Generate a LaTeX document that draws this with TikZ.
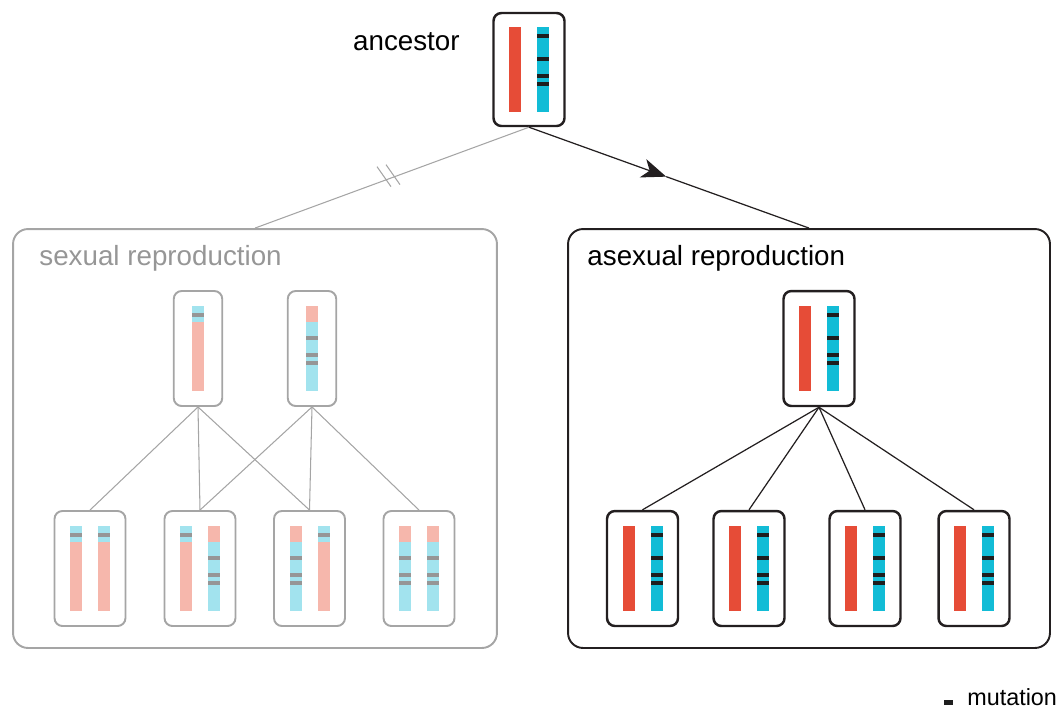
\documentclass[tikz,border=0pt]{standalone}
\usepackage{fontspec}
\setmainfont{Liberation Sans}
\usetikzlibrary{calc,arrows.meta}

\definecolor{redchr}{RGB}{230,76,55}
\definecolor{cyanchr}{RGB}{18,188,214}
\definecolor{pinkchr}{RGB}{246,183,172}
\definecolor{lcyanchr}{RGB}{162,227,238}
\definecolor{mutblack}{RGB}{30,30,30}
\definecolor{mutgray}{RGB}{150,150,150}
\definecolor{boxgray}{RGB}{165,165,165}
\definecolor{boxblack}{RGB}{35,31,32}

\newcommand{\solidbar}[2]{%
  \begin{scope}[shift={(#1)}]
    \fill[#2] (-6,-42.5) rectangle (6,42.5);
  \end{scope}}
\newcommand{\mutbar}[1]{%
  \begin{scope}[shift={(#1)}]
    \fill[cyanchr] (-6,-42.5) rectangle (6,42.5);
    \foreach \m in {9,32,49,57} {\fill[mutblack] (-6,\m-44.5) rectangle (6,\m-40.5);}
  \end{scope}}
\newcommand{\recA}[1]{%
  \begin{scope}[shift={(#1)}]
    \fill[pinkchr] (-6,-42.5) rectangle (6,42.5);
    \fill[lcyanchr] (-6,-42.5) rectangle (6,-26.5);
    \fill[mutgray] (-6,-35.5) rectangle (6,-31.5);
  \end{scope}}
\newcommand{\recB}[1]{%
  \begin{scope}[shift={(#1)}]
    \fill[lcyanchr] (-6,-42.5) rectangle (6,42.5);
    \fill[pinkchr] (-6,-42.5) rectangle (6,-26.5);
    \foreach \m in {32,49,57} {\fill[mutgray] (-6,\m-44.5) rectangle (6,\m-40.5);}
  \end{scope}}

\begin{document}
\begin{tikzpicture}
    [x=0.02cm, y=-0.02cm,
     cell/.style={rectangle, draw=boxblack, line width=1.4pt, rounded corners=4.5pt,
                  minimum width=1.42cm, minimum height=2.3cm, inner sep=0},
     gcell/.style={cell, draw=boxgray, line width=1.1pt},
     single/.style={minimum width=0.97cm},
     group/.style={rectangle, line width=1.1pt, rounded corners=8.5pt,
                   minimum width=9.68cm, minimum height=8.38cm, inner sep=0},
     lbl/.style={font=\fontsize{15.8}{19}\selectfont, inner sep=0},
     gline/.style={draw=boxgray, line width=0.6pt},
     bline/.style={draw=boxblack, line width=0.7pt}]
    \useasboundingbox (0,0) rectangle (1061,708);

    \node[group, draw=boxgray] (sexbox) at (255,438.5) {};
    \node[group, draw=boxblack, minimum width=9.64cm] (asexbox) at (809,438.5) {};
    \node[lbl, anchor=base west, text=mutgray] (sexlabel) at ($(sexbox.north west)+(27,37)$) {sexual reproduction};
    \node[lbl, anchor=base west] (asexlabel) at ($(asexbox.north west)+(20,37)$) {asexual reproduction};

    \node[cell, minimum height=2.26cm] (anc) at (529,69.5) {};
    \node[lbl, anchor=east] (anclabel) at (460,42) {ancestor};

    \node[gcell, single] (sp1) at (198,348.5) {};
    \node[gcell, single] (sp2) at (312,348.5) {};
    \node[gcell] (so1) at (90,568.5) {};
    \node[gcell] (so2) at (200,568.5) {};
    \node[gcell] (so3) at (309.5,568.5) {};
    \node[gcell] (so4) at (419,568.5) {};

    \node[cell] (ap) at (819,348.5) {};
    \node[cell] (ao1) at (642.5,568.5) {};
    \node[cell] (ao2) at (749,568.5) {};
    \node[cell] (ao3) at (865,568.5) {};
    \node[cell] (ao4) at (974,568.5) {};

    \solidbar{$(anc)+(-14,0)$}{redchr}
    \mutbar{$(anc)+(14,0)$}
    \solidbar{$(ap)+(-14,0)$}{redchr}
    \mutbar{$(ap)+(14,0)$}
    \foreach \c in {ao1,ao2,ao3,ao4} {
        \solidbar{$(\c)+(-14,0)$}{redchr}
        \mutbar{$(\c)+(14,0)$}
    }

    \recA{sp1}
    \recB{sp2}
    \recA{$(so1)+(-14,0)$}
    \recA{$(so1)+(14,0)$}
    \recA{$(so2)+(-14,0)$}
    \recB{$(so2)+(14,0)$}
    \recB{$(so3)+(-14,0)$}
    \recA{$(so3)+(14,0)$}
    \recB{$(so4)+(-14,0)$}
    \recB{$(so4)+(14,0)$}

    \draw[gline] (anc.south) -- coordinate[pos=0.5] (brk) (sexbox.north);
    \draw[gline] ($(brk)+(-15,-11)$) -- ($(brk)+(-1,9)$);
    \draw[gline] ($(brk)+(-6,-13)$) -- ($(brk)+(8,7)$);
    \path (anc.south) -- coordinate[pos=0.49] (tip) (asexbox.north);
    \draw[bline, -{Stealth[length=14pt, width=11pt, inset=4pt]}] (anc.south) -- (tip);
    \draw[bline] (tip) -- (asexbox.north);

    \foreach \o in {so1,so2,so3} \draw[gline] (sp1.south) -- (\o.north);
    \foreach \o in {so2,so3,so4} \draw[gline] (sp2.south) -- (\o.north);
    \foreach \o in {ao1,ao2,ao3,ao4} \draw[bline] (ap.south) -- (\o.north);

    \node[lbl, anchor=base west, font=\fontsize{13.3}{16}\selectfont] (mutlabel) at (967,705) {mutation};
    \fill[mutblack] ($(mutlabel.base west)+(-23,-5)$) rectangle ($(mutlabel.base west)+(-14,-0.5)$);
\end{tikzpicture}
\end{document}
